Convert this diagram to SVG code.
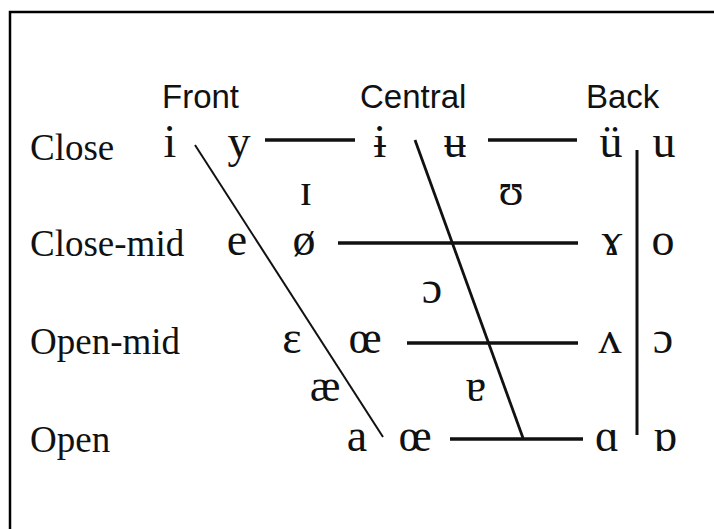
<svg xmlns="http://www.w3.org/2000/svg" width="714" height="529" viewBox="0 0 714 529">
<style>
.hdr{font-family:"Liberation Sans",Arial,sans-serif;font-size:33px;fill:#111;text-anchor:start}
.row{font-family:"Liberation Serif","Times New Roman",serif;font-size:37px;fill:#111}
.v{font-family:"Liberation Serif","DejaVu Serif",serif;font-size:46px;fill:#111;text-anchor:middle}
.ln{stroke:#111;fill:none;stroke-linecap:butt}
</style>
<rect x="0" y="0" width="714" height="529" fill="#fff"/>
<path d="M10,529 V12 H714" fill="none" stroke="#000" stroke-width="2.5"/>
<g id="headers">
<g id="h-front"><text class="hdr" x="162" y="108">Front</text></g>
<g id="h-central"><text class="hdr" x="360" y="108">Central</text></g>
<g id="h-back"><text class="hdr" x="586" y="108">Back</text></g>
</g>
<g id="rows">
<g id="r-close"><text class="row" x="30" y="160">Close</text></g>
<g id="r-closemid"><text class="row" x="30" y="256">Close-mid</text></g>
<g id="r-openmid"><text class="row" x="30" y="354">Open-mid</text></g>
<g id="r-open"><text class="row" x="30" y="452">Open</text></g>
</g>
<g id="connectors">
<line class="ln" x1="265" y1="140" x2="355" y2="140" stroke-width="3.5"/>
<line class="ln" x1="488" y1="140" x2="577" y2="140" stroke-width="3.5"/>
<line class="ln" x1="338" y1="243" x2="578" y2="243" stroke-width="3.5"/>
<line class="ln" x1="407" y1="343" x2="578" y2="343" stroke-width="3.5"/>
<line class="ln" x1="450" y1="439" x2="583" y2="439" stroke-width="3.5"/>
<line class="ln" x1="195" y1="145" x2="383" y2="437" stroke-width="2"/>
<line class="ln" x1="415" y1="140" x2="523" y2="438" stroke-width="2.8"/>
<line class="ln" x1="637" y1="150" x2="637" y2="435" stroke-width="3"/>
</g>
<g id="vowels">
<g id="v-i"><text class="v" x="170" y="157">i</text></g>
<g id="v-y"><text class="v" x="239" y="157">y</text></g>
<g id="v-ɨ"><text class="v" x="380" y="157">ɨ</text></g>
<g id="v-ʉ"><text class="v" x="455" y="157">ʉ</text></g>
<g id="v-ü"><text class="v" x="611" y="157">ü</text></g>
<g id="v-u"><text class="v" x="664" y="157">u</text></g>
<g id="v-ɪ"><text class="v" x="306" y="205">ɪ</text></g>
<g id="v-ʊ"><text class="v" x="511" y="205">ʊ</text></g>
<g id="v-e"><text class="v" x="237" y="255">e</text></g>
<g id="v-ø"><text class="v" x="304" y="255">ø</text></g>
<g id="v-ɤ"><text class="v" x="612" y="255">ɤ</text></g>
<g id="v-o"><text class="v" x="663" y="255">o</text></g>
<g id="v-ɔc"><text class="v" x="432" y="303">ɔ</text></g>
<g id="v-ɛ"><text class="v" x="292" y="353">ɛ</text></g>
<g id="v-œ"><text class="v" x="365" y="353">œ</text></g>
<g id="v-ʌ"><text class="v" x="610" y="353">ʌ</text></g>
<g id="v-ɔ"><text class="v" x="663" y="353">ɔ</text></g>
<g id="v-æ"><text class="v" x="325" y="401">æ</text></g>
<g id="v-ɐ"><text class="v" x="476" y="401">ɐ</text></g>
<g id="v-a"><text class="v" x="357" y="451">a</text></g>
<g id="v-ɶ"><text class="v" x="415" y="451">œ</text></g>
<g id="v-ɑ"><text class="v" x="607" y="451">ɑ</text></g>
<g id="v-ɒ"><text class="v" x="665" y="451">ɒ</text></g>
</g>
</svg>
